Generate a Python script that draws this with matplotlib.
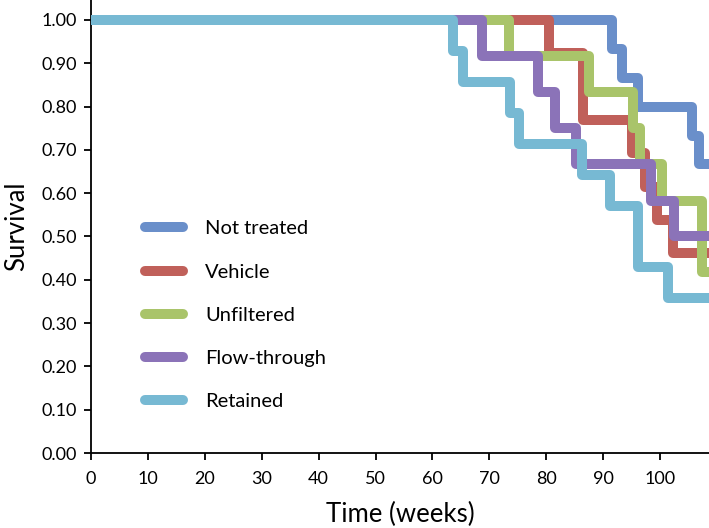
import matplotlib
matplotlib.use("Agg")
import matplotlib.pyplot as plt

plt.rcParams['font.family'] = ['Lato', 'DejaVu Sans']

# survival curves (weeks, fraction surviving)
labels = ['Not treated', 'Vehicle', 'Unfiltered', 'Flow-through', 'Retained']
colors = ['#6a8fca', '#c0605a', '#a9c46a', '#8b73b8', '#77b9d3']

t_not_treated = [0, 91.5, 93.3, 96.2, 105.6, 106.8, 109]
s_not_treated = [1.00, 0.933, 0.867, 0.800, 0.733, 0.667, 0.667]

t_vehicle = [0, 80.5, 86.5, 95.0, 97.4, 99.4, 102.3, 109]
s_vehicle = [1.00, 0.923, 0.769, 0.692, 0.615, 0.538, 0.462, 0.462]

t_unfiltered = [0, 73.5, 87.6, 95.3, 96.4, 100.3, 107.3, 109]
s_unfiltered = [1.00, 0.917, 0.833, 0.750, 0.667, 0.583, 0.417, 0.417]

t_flow = [0, 68.7, 78.6, 81.5, 85.3, 98.4, 102.5, 109]
s_flow = [1.00, 0.917, 0.833, 0.750, 0.667, 0.583, 0.500, 0.500]

t_retained = [0, 63.6, 65.4, 73.6, 75.3, 86.2, 91.2, 96.1, 101.4, 109]
s_retained = [1.00, 0.929, 0.857, 0.786, 0.714, 0.643, 0.571, 0.429, 0.357, 0.357]

times = [t_not_treated, t_vehicle, t_unfiltered, t_flow, t_retained]
survs = [s_not_treated, s_vehicle, s_unfiltered, s_flow, s_retained]

fig = plt.figure(figsize=(7.09, 5.28), dpi=100)
ax = fig.add_axes([0.1283, 0.142, 0.8717, 0.858])

for i in range(len(labels)):
    ax.step(times[i], survs[i], where='post', color=colors[i], lw=7.2,
            label=labels[i], solid_joinstyle='round', solid_capstyle='round',
            zorder=2 + i)

ax.set_xlim(0, 108.6)
ax.set_ylim(0, 1.046)
ax.set_xticks(range(0, 101, 10))
ax.set_yticks([i / 10 for i in range(11)])
ax.set_yticklabels(['%.2f' % (i / 10) for i in range(11)])
ax.tick_params(labelsize=13, direction='out', length=5, width=1.3)
ax.tick_params(axis='x', pad=8)
ax.tick_params(axis='y', pad=5)
ax.spines['top'].set_visible(False)
ax.spines['right'].set_visible(False)
for s in ['left', 'bottom']:
    ax.spines[s].set_linewidth(1.3)

ax.set_xlabel('Time (weeks)', fontsize=18.5, labelpad=11)
ax.set_ylabel('Survival', fontsize=18.5, labelpad=9)

leg = ax.legend(loc='upper left', bbox_to_anchor=(0.058, 0.554), frameon=False,
                fontsize=14.5, handlelength=1.9, handletextpad=1.1,
                labelspacing=1.3)

fig.savefig('out.png', dpi=100)
